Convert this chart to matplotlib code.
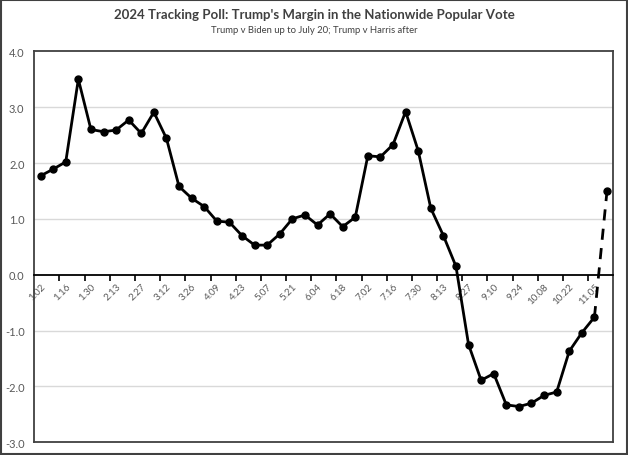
import matplotlib
matplotlib.use("Agg")
import matplotlib.pyplot as plt
from matplotlib.patches import Rectangle

# Data
week_labels = ["1.02", "1.09", "1.16", "1.23", "1.30", "2.06", "2.13", "2.20", "2.27", "3.05",
               "3.12", "3.19", "3.26", "4.02", "4.09", "4.16", "4.23", "4.30", "5.07", "5.14",
               "5.21", "5.28", "6.04", "6.11", "6.18", "6.25", "7.02", "7.09", "7.16", "7.23",
               "7.30", "8.06", "8.13", "8.20", "8.27", "9.03", "9.10", "9.17", "9.24", "10.01",
               "10.08", "10.15", "10.22", "10.29", "11.05", "11.12"]
margin = [1.77, 1.89, 2.02, 3.50, 2.60, 2.56, 2.59, 2.77, 2.53, 2.91,
          2.44, 1.58, 1.37, 1.22, 0.96, 0.94, 0.70, 0.53, 0.53, 0.73,
          1.00, 1.07, 0.89, 1.09, 0.86, 1.03, 2.13, 2.11, 2.33, 2.92,
          2.22, 1.19, 0.70, 0.15, -1.25, -1.89, -1.77, -2.33, -2.36, -2.30,
          -2.16, -2.10, -1.37, -1.04, -0.76, 1.50]
y_ticks = [-3.0, -2.0, -1.0, 0.0, 1.0, 2.0, 3.0, 4.0]

title = "2024 Tracking Poll: Trump's Margin in the Nationwide Popular Vote"
subtitle = "Trump v Biden up to July 20; Trump v Harris after"

plt.rcParams['font.family'] = ['Lato', 'DejaVu Sans']

fig = plt.figure(figsize=(6.28, 4.56), dpi=100)
ax = fig.add_axes([0.0546, 0.0279, 0.9220, 0.8574])

n = len(margin)
x = list(range(n))
gray = "#595959"

# spines first (set_position resets ticks)
ax.spines['bottom'].set_position(('data', 0))
ax.spines['bottom'].set_color("black")
ax.spines['bottom'].set_linewidth(1.3)
for s in ('left', 'top', 'right'):
    ax.spines[s].set_color("#404040")
    ax.spines[s].set_linewidth(1.3)
ax.axhline(-3, color="#404040", lw=1.3, clip_on=False, zorder=5)

# gridlines
for yv in y_ticks:
    if yv not in (0.0, -3.0, 4.0):
        ax.axhline(yv, color="#d9d9d9", lw=1.0, zorder=0)

# solid part, dashed final segment
ax.plot(x[:-1], margin[:-1], color="black", lw=2.0, marker="o", ms=5, zorder=3)
ax.plot(x[-2:], margin[-2:], color="black", lw=2.0, ls=(0, (4, 3)), zorder=3)
ax.plot(x[-1:], margin[-1:], color="black", marker="o", ms=5, lw=0, zorder=3)

ax.set_xlim(-0.5, n - 0.5)
ax.set_ylim(-3, 4)

ax.set_yticks(y_ticks)
ax.set_yticklabels([f"{v:.1f}" for v in y_ticks], color=gray, fontsize=8)
ax.tick_params(axis='y', length=0, pad=7)

major = list(range(0, n - 1, 2))
ax.set_xticks(major)
ax.set_xticks([i + 1.5 for i in range(0, n - 2, 2)], minor=True)
ax.tick_params(axis='x', which='major', length=0, pad=5)
ax.tick_params(axis='x', which='minor', length=4, width=1.2, color="black", direction='out')
ax.set_xticklabels([week_labels[i] for i in major], rotation=45, ha='right',
                   rotation_mode='anchor', color=gray, fontsize=7)

fig.text(0.5, 0.967, title, ha='center', va='center', fontsize=9.5,
         fontweight='bold', color="#404040")
fig.text(0.5, 0.933, subtitle, ha='center', va='center', fontsize=6.8, color="#404040")

# outer frame
fig.patches.append(Rectangle((0.002, 0.002), 0.996, 0.996, transform=fig.transFigure,
                             fill=False, edgecolor="#404040", lw=1.5))

fig.savefig("out.png", dpi=100)
